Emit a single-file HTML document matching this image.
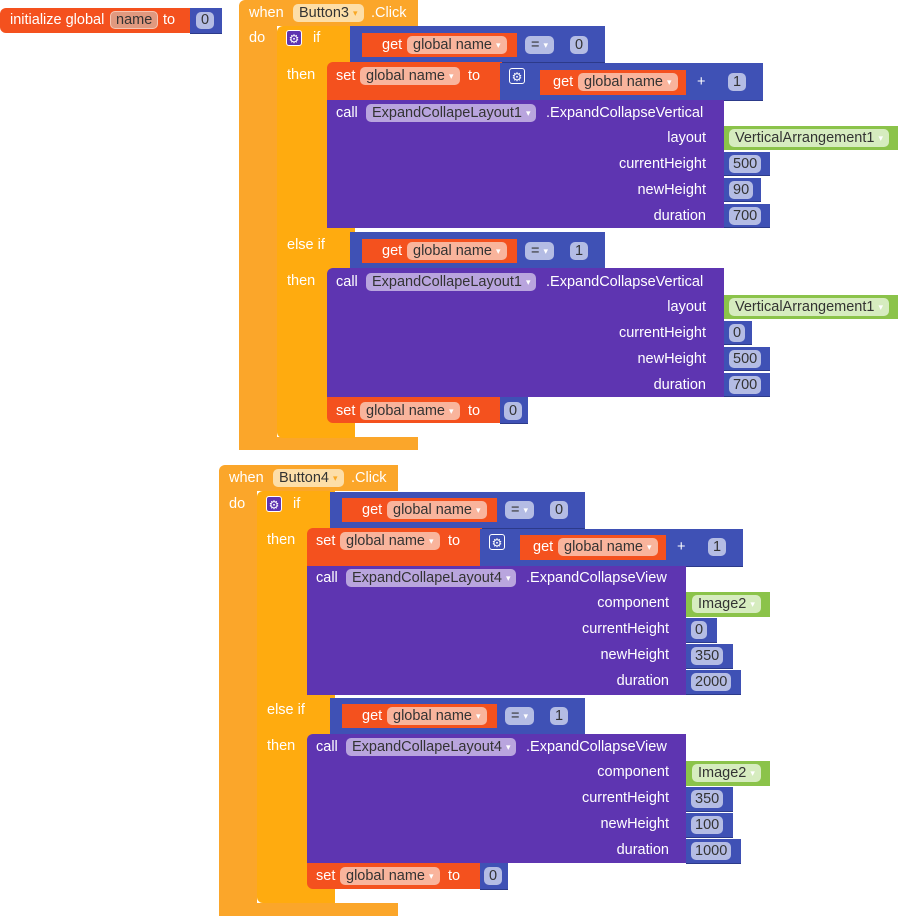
<!DOCTYPE html>
<html><head><meta charset="utf-8"><style>
body{margin:0;width:899px;height:916px;background:#fff;position:relative;overflow:hidden;font-family:"Liberation Sans",sans-serif}
.b{position:absolute}
.ev{background:#FBA62A}
.iff{background:#FFAB0F}
.vr{background:#F4511E}
.bl{background:#3F51B5;border-bottom:1px solid #2c3a8a}
.pu{background:#5E35B1}
.gr{background:#8BC34A}
.t{position:absolute;font-size:14.5px;line-height:16px;color:#fff;white-space:nowrap}
.r{text-align:right}
.p{position:absolute;height:18px;line-height:18px;border-radius:5px;padding:0 6px;font-size:14.5px;color:#333;white-space:nowrap}
.po{background:#F9B49C}
.pe{background:#FDDEA8}
.pp{background:#B9A5DE}
.pb{background:#B4BCE4}
.pg{background:#D6ECBF}
.a{font-size:9px;color:#fff;margin-left:4px;vertical-align:1px}
.gear{position:absolute;width:16px;height:16px;border-radius:3px;background:#5E35B1;color:#fff;font-size:12px;line-height:16px;text-align:center;border:1px solid #fff;box-sizing:border-box}
.gb{background:#3F51B5}
</style></head><body>

<!-- initialize global -->
<div class="b vr" style="left:0;top:8px;width:192px;height:25px;border-radius:6px 0 0 6px"></div>
<div class="b bl" style="left:190px;top:8px;width:32px;height:25px"></div>
<div class="t" style="left:10px;top:12px">initialize global</div>
<div class="p" style="left:110px;top:11px;background:#E0997F;border:1px solid #f6c5b2;height:16px;line-height:16px;padding:0 5px">name</div>
<div class="t" style="left:163px;top:12px">to</div>
<div class="p pb" style="left:196px;top:12px;height:17px;line-height:17px;padding:0 5px">0</div>

<!-- ===== Block 1 ===== -->
<div class="b ev" style="left:239px;top:0;width:179px;height:26px;border-radius:6px 0 0 0"></div>
<div class="b ev" style="left:239px;top:26px;width:38px;height:424px"></div>
<div class="b ev" style="left:239px;top:437px;width:179px;height:13px;border-radius:0 0 0 6px"></div>
<div class="t" style="left:249px;top:5px">when</div>
<div class="p pe" style="left:293px;top:4px">Button3<span class="a" style="color:#f9a825">▾</span></div>
<div class="t" style="left:371px;top:5px">.Click</div>
<div class="t" style="left:249px;top:30px">do</div>

<div class="b iff" style="left:277px;top:26px;width:78px;height:412px;border-radius:6px 0 0 6px"></div>
<div class="gear" style="left:286px;top:30px">⚙</div>
<div class="t" style="left:313px;top:30px">if</div>
<div class="t" style="left:287px;top:67px">then</div>
<div class="t" style="left:287px;top:237px">else if</div>
<div class="t" style="left:287px;top:273px">then</div>

<!-- compare 1 -->
<div class="b bl" style="left:350px;top:26px;width:255px;height:36px"></div>
<div class="b vr" style="left:362px;top:33px;width:155px;height:24px"></div>
<div class="t" style="left:382px;top:37px">get</div>
<div class="p po" style="left:407px;top:36px">global name<span class="a">▾</span></div>
<div class="p pb" style="left:525px;top:36px">=<span class="a">▾</span></div>
<div class="p pb" style="left:570px;top:36px;padding:0 5px">0</div>

<!-- set + add -->
<div class="b vr" style="left:327px;top:62px;width:175px;height:38px;border-radius:6px 0 0 0"></div>
<div class="t" style="left:336px;top:68px">set</div>
<div class="p po" style="left:360px;top:67px">global name<span class="a">▾</span></div>
<div class="t" style="left:468px;top:68px">to</div>
<div class="b bl" style="left:500px;top:63px;width:263px;height:37px"></div>
<div class="gear gb" style="left:509px;top:68px">⚙</div>
<div class="b vr" style="left:540px;top:70px;width:146px;height:25px"></div>
<div class="t" style="left:553px;top:74px">get</div>
<div class="p po" style="left:578px;top:73px">global name<span class="a">▾</span></div>
<div class="t" style="left:697px;top:74px">+</div>
<div class="p pb" style="left:728px;top:73px;padding:0 5px">1</div>

<!-- call 1 -->
<div class="b pu" style="left:327px;top:100px;width:397px;height:128px"></div>
<div class="t" style="left:336px;top:105px">call</div>
<div class="p pp" style="left:366px;top:104px">ExpandCollapeLayout1<span class="a">▾</span></div>
<div class="t" style="left:546px;top:105px">.ExpandCollapseVertical</div>
<div class="t r" style="right:193px;top:130px">layout</div>
<div class="t r" style="right:193px;top:156px">currentHeight</div>
<div class="t r" style="right:193px;top:182px">newHeight</div>
<div class="t r" style="right:193px;top:208px">duration</div>
<div class="b gr" style="left:724px;top:126px;width:174px;height:24px"></div>
<div class="p pg" style="left:729px;top:129px">VerticalArrangement1<span class="a">▾</span></div>
<div class="b bl" style="left:724px;top:152px;width:46px;height:23px"></div>
<div class="p pb" style="left:729px;top:155px;padding:0 4px">500</div>
<div class="b bl" style="left:724px;top:178px;width:37px;height:23px"></div>
<div class="p pb" style="left:729px;top:181px;padding:0 4px">90</div>
<div class="b bl" style="left:724px;top:204px;width:46px;height:23px"></div>
<div class="p pb" style="left:729px;top:207px;padding:0 4px">700</div>

<!-- compare 2 -->
<div class="b bl" style="left:350px;top:232px;width:255px;height:36px"></div>
<div class="b vr" style="left:362px;top:239px;width:155px;height:24px"></div>
<div class="t" style="left:382px;top:243px">get</div>
<div class="p po" style="left:407px;top:242px">global name<span class="a">▾</span></div>
<div class="p pb" style="left:525px;top:242px">=<span class="a">▾</span></div>
<div class="p pb" style="left:570px;top:242px;padding:0 5px">1</div>

<!-- call 2 -->
<div class="b pu" style="left:327px;top:268px;width:397px;height:129px;border-radius:6px 0 0 0"></div>
<div class="t" style="left:336px;top:274px">call</div>
<div class="p pp" style="left:366px;top:273px">ExpandCollapeLayout1<span class="a">▾</span></div>
<div class="t" style="left:546px;top:274px">.ExpandCollapseVertical</div>
<div class="t r" style="right:193px;top:299px">layout</div>
<div class="t r" style="right:193px;top:325px">currentHeight</div>
<div class="t r" style="right:193px;top:351px">newHeight</div>
<div class="t r" style="right:193px;top:377px">duration</div>
<div class="b gr" style="left:724px;top:295px;width:174px;height:24px"></div>
<div class="p pg" style="left:729px;top:298px">VerticalArrangement1<span class="a">▾</span></div>
<div class="b bl" style="left:724px;top:321px;width:28px;height:23px"></div>
<div class="p pb" style="left:729px;top:324px;padding:0 4px">0</div>
<div class="b bl" style="left:724px;top:347px;width:46px;height:23px"></div>
<div class="p pb" style="left:729px;top:350px;padding:0 4px">500</div>
<div class="b bl" style="left:724px;top:373px;width:46px;height:23px"></div>
<div class="p pb" style="left:729px;top:376px;padding:0 4px">700</div>

<div class="b vr" style="left:327px;top:397px;width:175px;height:26px;border-radius:0 0 0 6px"></div>
<div class="t" style="left:336px;top:403px">set</div>
<div class="p po" style="left:360px;top:402px">global name<span class="a">▾</span></div>
<div class="t" style="left:468px;top:403px">to</div>
<div class="b bl" style="left:500px;top:397px;width:28px;height:26px"></div>
<div class="p pb" style="left:504px;top:402px;padding:0 5px">0</div>

<!-- ===== Block 2 ===== -->
<div class="b ev" style="left:219px;top:465px;width:179px;height:26px;border-radius:6px 0 0 0"></div>
<div class="b ev" style="left:219px;top:491px;width:38px;height:425px"></div>
<div class="b ev" style="left:219px;top:903px;width:179px;height:13px;border-radius:0 0 0 6px"></div>
<div class="t" style="left:229px;top:470px">when</div>
<div class="p pe" style="left:273px;top:469px">Button4<span class="a" style="color:#f9a825">▾</span></div>
<div class="t" style="left:351px;top:470px">.Click</div>
<div class="t" style="left:229px;top:496px">do</div>

<div class="b iff" style="left:257px;top:491px;width:78px;height:412px;border-radius:6px 0 0 6px"></div>
<div class="gear" style="left:266px;top:496px">⚙</div>
<div class="t" style="left:293px;top:496px">if</div>
<div class="t" style="left:267px;top:532px">then</div>
<div class="t" style="left:267px;top:702px">else if</div>
<div class="t" style="left:267px;top:738px">then</div>

<div class="b bl" style="left:330px;top:492px;width:255px;height:36px"></div>
<div class="b vr" style="left:342px;top:498px;width:155px;height:24px"></div>
<div class="t" style="left:362px;top:502px">get</div>
<div class="p po" style="left:387px;top:501px">global name<span class="a">▾</span></div>
<div class="p pb" style="left:505px;top:501px">=<span class="a">▾</span></div>
<div class="p pb" style="left:550px;top:501px;padding:0 5px">0</div>

<div class="b vr" style="left:307px;top:528px;width:175px;height:38px;border-radius:6px 0 0 0"></div>
<div class="t" style="left:316px;top:533px">set</div>
<div class="p po" style="left:340px;top:532px">global name<span class="a">▾</span></div>
<div class="t" style="left:448px;top:533px">to</div>
<div class="b bl" style="left:480px;top:529px;width:263px;height:37px"></div>
<div class="gear gb" style="left:489px;top:534px">⚙</div>
<div class="b vr" style="left:520px;top:535px;width:146px;height:25px"></div>
<div class="t" style="left:533px;top:539px">get</div>
<div class="p po" style="left:558px;top:538px">global name<span class="a">▾</span></div>
<div class="t" style="left:677px;top:539px">+</div>
<div class="p pb" style="left:708px;top:538px;padding:0 5px">1</div>

<div class="b pu" style="left:307px;top:566px;width:379px;height:129px"></div>
<div class="t" style="left:316px;top:570px">call</div>
<div class="p pp" style="left:346px;top:569px">ExpandCollapeLayout4<span class="a">▾</span></div>
<div class="t" style="left:526px;top:570px">.ExpandCollapseView</div>
<div class="t r" style="right:230px;top:595px">component</div>
<div class="t r" style="right:230px;top:621px">currentHeight</div>
<div class="t r" style="right:230px;top:647px">newHeight</div>
<div class="t r" style="right:230px;top:673px">duration</div>
<div class="b gr" style="left:686px;top:592px;width:84px;height:25px"></div>
<div class="p pg" style="left:692px;top:595px">Image2<span class="a">▾</span></div>
<div class="b bl" style="left:686px;top:618px;width:31px;height:24px"></div>
<div class="p pb" style="left:691px;top:621px;padding:0 4px">0</div>
<div class="b bl" style="left:686px;top:644px;width:47px;height:24px"></div>
<div class="p pb" style="left:691px;top:647px;padding:0 4px">350</div>
<div class="b bl" style="left:686px;top:670px;width:55px;height:24px"></div>
<div class="p pb" style="left:691px;top:673px;padding:0 4px">2000</div>

<div class="b bl" style="left:330px;top:698px;width:255px;height:36px"></div>
<div class="b vr" style="left:342px;top:704px;width:155px;height:24px"></div>
<div class="t" style="left:362px;top:708px">get</div>
<div class="p po" style="left:387px;top:707px">global name<span class="a">▾</span></div>
<div class="p pb" style="left:505px;top:707px">=<span class="a">▾</span></div>
<div class="p pb" style="left:550px;top:707px;padding:0 5px">1</div>

<div class="b pu" style="left:307px;top:734px;width:379px;height:129px;border-radius:6px 0 0 0"></div>
<div class="t" style="left:316px;top:739px">call</div>
<div class="p pp" style="left:346px;top:738px">ExpandCollapeLayout4<span class="a">▾</span></div>
<div class="t" style="left:526px;top:739px">.ExpandCollapseView</div>
<div class="t r" style="right:230px;top:764px">component</div>
<div class="t r" style="right:230px;top:790px">currentHeight</div>
<div class="t r" style="right:230px;top:816px">newHeight</div>
<div class="t r" style="right:230px;top:842px">duration</div>
<div class="b gr" style="left:686px;top:761px;width:84px;height:25px"></div>
<div class="p pg" style="left:692px;top:764px">Image2<span class="a">▾</span></div>
<div class="b bl" style="left:686px;top:787px;width:47px;height:24px"></div>
<div class="p pb" style="left:691px;top:790px;padding:0 4px">350</div>
<div class="b bl" style="left:686px;top:813px;width:47px;height:24px"></div>
<div class="p pb" style="left:691px;top:816px;padding:0 4px">100</div>
<div class="b bl" style="left:686px;top:839px;width:55px;height:24px"></div>
<div class="p pb" style="left:691px;top:842px;padding:0 4px">1000</div>

<div class="b vr" style="left:307px;top:863px;width:175px;height:26px;border-radius:0 0 0 6px"></div>
<div class="t" style="left:316px;top:868px">set</div>
<div class="p po" style="left:340px;top:867px">global name<span class="a">▾</span></div>
<div class="t" style="left:448px;top:868px">to</div>
<div class="b bl" style="left:480px;top:863px;width:28px;height:26px"></div>
<div class="p pb" style="left:484px;top:867px;padding:0 5px">0</div>

</body></html>
